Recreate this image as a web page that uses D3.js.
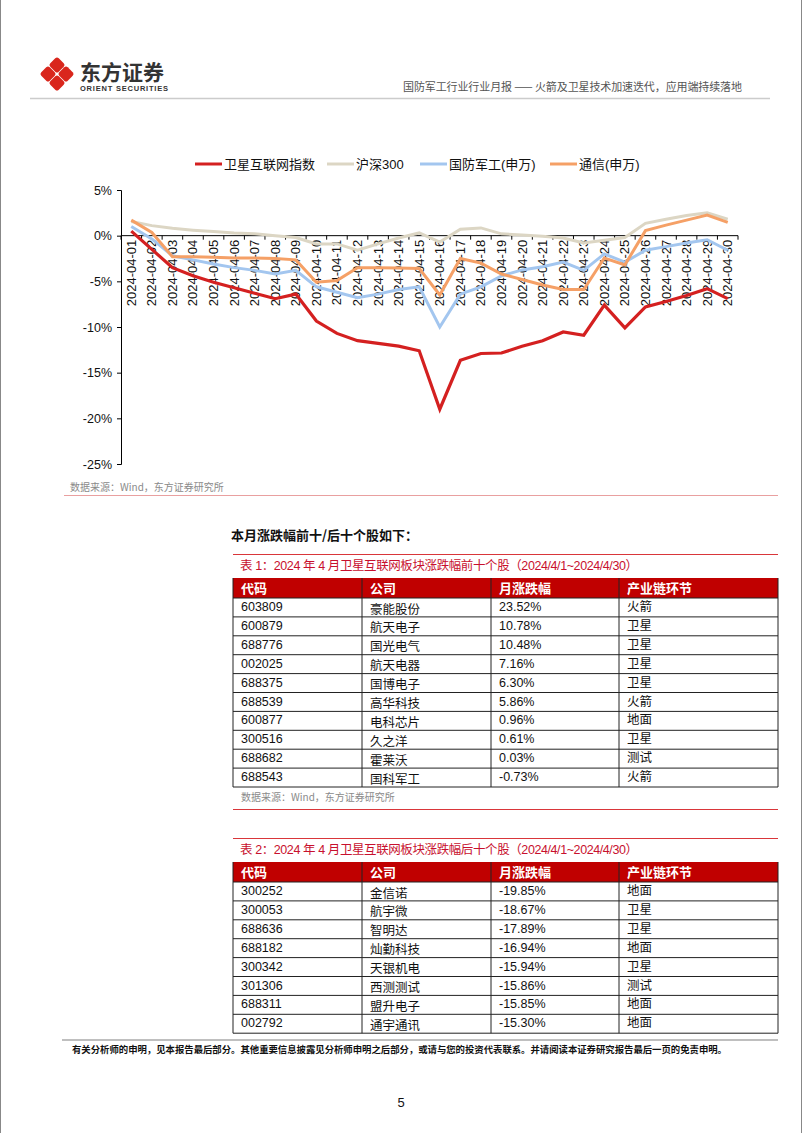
<!DOCTYPE html>
<html><head><meta charset="utf-8">
<script src="https://cdn.jsdelivr.net/npm/d3@7"></script>
<style>
html,body{margin:0;padding:0;background:#fff;}
svg{display:block;font-family:"Liberation Sans",Arial,"Noto Sans CJK SC",sans-serif;}
</style></head>
<body>
<svg id="page" width="802" height="1133"></svg>
<script>
const dates = d3.range(1,31).map(d=>"2024-04-"+String(d).padStart(2,"0"));
const seriesNames = ["卫星互联网指数","沪深300","国防军工(申万)","通信(申万)"];
const seriesColors = ["#d42020","#dcd6c4","#a3c6ef","#f5a066"];
const satIndex = [0.5,-1.5,-3.5,-4.4,-5.1,-5.7,-6.3,-6.9,-6.4,-9.35,-10.7,-11.5,-11.8,-12.1,-12.6,-19.0,-13.65,-12.9,-12.85,-12.1,-11.5,-10.55,-10.9,-7.6,-10.1,-7.8,-7.2,-6.55,-5.8,-6.9];
const hs300 = [1.55,1.1,0.8,0.6,0.45,0.3,0.2,0.0,-0.2,-0.9,-0.9,-1.6,-0.9,-0.25,0.3,-0.7,0.7,0.85,0.2,0.07,-0.07,-0.25,-0.8,-0.5,-0.2,1.35,1.8,2.2,2.5,1.8];
const defense = [1.0,-0.35,-2.2,-2.65,-3.1,-3.5,-3.8,-4.2,-3.8,-5.6,-6.2,-6.8,-6.4,-5.9,-5.6,-10.0,-6.4,-5.6,-4.4,-3.75,-3.4,-2.9,-3.8,-2.0,-2.9,-1.6,-1.2,-0.8,-0.45,-1.6];
const telecom = [1.7,0.35,-2.3,-2.3,-2.35,-2.45,-2.45,-2.5,-2.65,-5.1,-4.9,-3.5,-3.5,-3.55,-3.6,-6.5,-2.5,-3.0,-4.2,-4.8,-5.4,-5.9,-5.9,-2.45,-3.2,0.55,1.15,1.7,2.25,1.45];
const yTicks = [5,0,-5,-10,-15,-20,-25];

const tableHeader = ["代码","公司","月涨跌幅","产业链环节"];
const top10Codes = ["603809","600879","688776","002025","688375","688539","600877","300516","688682","688543"];
const top10Names = ["豪能股份","航天电子","国光电气","航天电器","国博电子","高华科技","电科芯片","久之洋","霍莱沃","国科军工"];
const top10Pct = ["23.52%","10.78%","10.48%","7.16%","6.30%","5.86%","0.96%","0.61%","0.03%","-0.73%"];
const top10Chain = ["火箭","卫星","卫星","卫星","卫星","火箭","地面","卫星","测试","火箭"];
const bot10Codes = ["300252","300053","688636","688182","300342","301306","688311","002792"];
const bot10Names = ["金信诺","航宇微","智明达","灿勤科技","天银机电","西测测试","盟升电子","通宇通讯"];
const bot10Pct = ["-19.85%","-18.67%","-17.89%","-16.94%","-15.94%","-15.86%","-15.85%","-15.30%"];
const bot10Chain = ["地面","卫星","卫星","地面","卫星","测试","地面","地面"];

const svg = d3.select("#page");

// page edges
svg.append("line").attr("x1",0.5).attr("x2",0.5).attr("y1",0).attr("y2",1133).attr("stroke","#888");
svg.append("line").attr("x1",801.5).attr("x2",801.5).attr("y1",0).attr("y2",1133).attr("stroke","#888");

// logo
const logo = svg.append("g").attr("transform","translate(57,74)");
[[0,-9],[-9,0],[9,0],[0,9]].forEach(([dx,dy])=>{
  logo.append("rect").attr("x",-6).attr("y",-6).attr("width",12).attr("height",12).attr("rx",2.5)
    .attr("fill","#d9261c").attr("transform",`translate(${dx},${dy}) rotate(45)`);
});
svg.append("text").attr("x",80).attr("y",80).attr("font-size",21).attr("font-weight","bold")
  .attr("fill","#333").attr("font-family","Noto Sans CJK SC").text("东方证券");
svg.append("text").attr("x",80).attr("y",91).attr("font-size",7.5).attr("font-weight","bold")
  .attr("fill","#333").attr("textLength",88).text("ORIENT SECURITIES");
svg.append("text").attr("x",742).attr("y",91).attr("text-anchor","end").attr("font-size",11)
  .attr("fill","#555").attr("font-family","Noto Sans CJK SC").attr("textLength",339).text("国防军工行业行业月报 —— 火箭及卫星技术加速迭代，应用端持续落地");
svg.append("line").attr("x1",30).attr("x2",770).attr("y1",98.5).attr("y2",98.5).attr("stroke","#ccc").attr("stroke-width",1.5);

// chart
const x = d3.scaleBand().domain(dates).range([121,738]);
const y = d3.scaleLinear().domain([-25,5]).range([464,190]);
const all = [satIndex,hs300,defense,telecom];

// legend
const legX = [195,327,420,550];
seriesNames.forEach((n,i)=>{
  svg.append("line").attr("x1",legX[i]).attr("x2",legX[i]+27).attr("y1",164).attr("y2",164)
    .attr("stroke",seriesColors[i]).attr("stroke-width",3);
  svg.append("text").attr("x",legX[i]+29).attr("y",169).attr("font-size",13).attr("fill","#111").text(n);
});

// y axis
const yAxis = svg.append("g").attr("transform","translate(121,0)")
  .call(d3.axisLeft(y).tickValues(yTicks).tickSize(4).tickFormat(d=>d+"%"));
yAxis.select(".domain").attr("stroke","#000");
yAxis.selectAll("text").attr("font-size",12.5).attr("fill","#111").attr("dx",-2).attr("font-family","Liberation Sans, Arial");

// x axis at 0
const y0 = y(0);
const xa = svg.append("g");
xa.append("line").attr("x1",121).attr("x2",738).attr("y1",y0).attr("y2",y0).attr("stroke","#000");
const bounds = dates.map(d=>x(d)).concat([x.range()[1]]);
xa.selectAll(".tk").data(bounds).enter().append("line")
  .attr("x1",d=>d).attr("x2",d=>d).attr("y1",y0).attr("y2",y0+4).attr("stroke","#000");
xa.selectAll(".lb").data(dates).enter().append("text")
  .attr("transform",d=>`translate(${x(d)+x.bandwidth()/2+4.5},${y0+4}) rotate(-90)`)
  .attr("text-anchor","end").attr("font-size",13).attr("fill","#111").text(d=>d);

// lines
const line = d3.line().x((d,i)=>x(dates[i])+x.bandwidth()/2).y(d=>y(d));
[1,2,3,0].forEach(i=>{
  svg.append("path").datum(all[i]).attr("d",line).attr("fill","none")
    .attr("stroke",seriesColors[i]).attr("stroke-width",i===0?3.2:3).attr("stroke-linejoin","miter");
});

// source 1
svg.append("text").attr("x",70).attr("y",491).attr("font-size",10).attr("fill","#8a8a8a").attr("font-family","Noto Sans CJK SC").text("数据来源：Wind，东方证券研究所");
svg.append("line").attr("x1",64).attr("x2",778).attr("y1",495.5).attr("y2",495.5).attr("stroke","#e9a0a0").attr("stroke-width",1);

svg.append("text").attr("x",231).attr("y",540).attr("font-size",13).attr("font-weight","bold").attr("fill","#111").attr("font-family","Noto Sans CJK SC").text("本月涨跌幅前十/后十个股如下：");

const colX = [233,362,491,619,778];
function drawTable(top, title, codes, names, pct, chain){
  svg.append("line").attr("x1",233).attr("x2",778).attr("y1",top+0.5).attr("y2",top+0.5).attr("stroke","#d9363a").attr("stroke-width",1);
  svg.append("text").attr("x",240).attr("y",top+16).attr("font-size",12.5).attr("fill","#c8102e")
    .attr("font-family","Liberation Sans, Arial, Noto Sans CJK SC").attr("textLength",398).text(title);
  const hTop = top+24, rh = 18.9, hh = 20;
  svg.append("rect").attr("x",233).attr("y",hTop).attr("width",545).attr("height",hh).attr("fill","#c00000");
  tableHeader.forEach((h,j)=>{
    svg.append("text").attr("x",colX[j]+8).attr("y",hTop+15).attr("font-size",13).attr("font-weight","bold").attr("fill","#fff").attr("font-family","Noto Sans CJK SC").text(h);
  });
  const rows = codes.map((c,i)=>[c,names[i],pct[i],chain[i]]);
  const bodyTop = hTop+hh;
  const bodyBottom = bodyTop+rh*rows.length;
  rows.forEach((r,i)=>{
    const ry = bodyTop + rh*i;
    r.forEach((v,j)=>{
      svg.append("text").attr("x",colX[j]+8).attr("y",ry+(j===1?15.5:13)).attr("font-size",12.5).attr("fill","#111")
        .attr("font-family",j===1||j===3?"Noto Sans CJK SC":"Liberation Sans, Arial").text(v);
    });
    svg.append("line").attr("x1",233).attr("x2",778).attr("y1",ry+rh).attr("y2",ry+rh).attr("stroke","#222").attr("stroke-width",1);
  });
  svg.append("line").attr("x1",233).attr("x2",778).attr("y1",bodyTop).attr("y2",bodyTop).attr("stroke","#222");
  colX.forEach(cx=>{
    svg.append("line").attr("x1",cx).attr("x2",cx).attr("y1",hTop).attr("y2",bodyBottom).attr("stroke","#222").attr("stroke-width",1);
  });
  return bodyBottom;
}
drawTable(554,"表 1：2024 年 4 月卫星互联网板块涨跌幅前十个股（2024/4/1~2024/4/30）",top10Codes,top10Names,top10Pct,top10Chain);
svg.append("text").attr("x",241).attr("y",801).attr("font-size",10).attr("fill","#8a8a8a").attr("font-family","Noto Sans CJK SC").text("数据来源：Wind，东方证券研究所");
svg.append("line").attr("x1",233).attr("x2",778).attr("y1",809.5).attr("y2",809.5).attr("stroke","#d9363a").attr("stroke-width",1);

drawTable(838,"表 2：2024 年 4 月卫星互联网板块涨跌幅后十个股（2024/4/1~2024/4/30）",bot10Codes,bot10Names,bot10Pct,bot10Chain);

// footer
svg.append("line").attr("x1",62).attr("x2",778).attr("y1",1040).attr("y2",1040).attr("stroke","#aaa").attr("stroke-width",1.5);
svg.append("text").attr("x",72).attr("y",1053).attr("font-size",9.4).attr("font-weight","bold").attr("fill","#111").attr("font-family","Noto Sans CJK SC")
  .attr("textLength",655).text("有关分析师的申明，见本报告最后部分。其他重要信息披露见分析师申明之后部分，或请与您的投资代表联系。并请阅读本证券研究报告最后一页的免责申明。");
svg.append("text").attr("x",401).attr("y",1107).attr("text-anchor","middle").attr("font-size",13).attr("fill","#111").text("5");
</script>
</body></html>
